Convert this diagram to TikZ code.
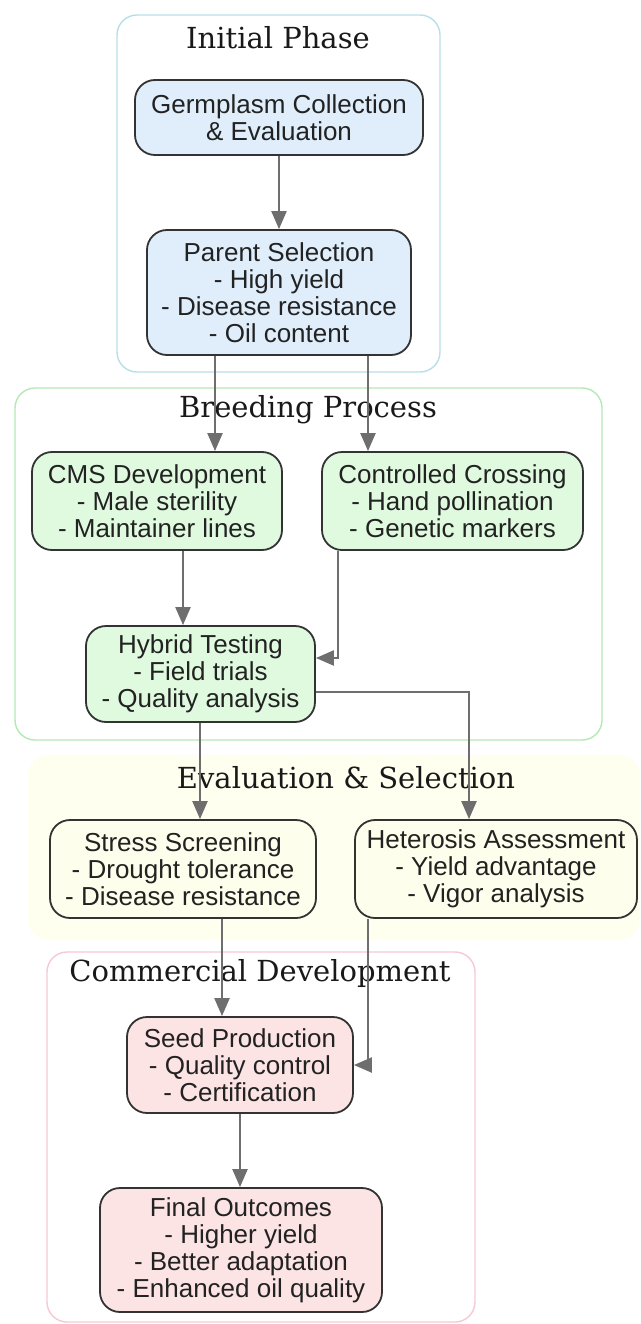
\documentclass[tikz,border=0pt]{standalone}
\usepackage{fontspec}
\newfontfamily\boxfont{Liberation Sans}
\newfontfamily\titlefont{DejaVu Serif}
\usetikzlibrary{
	arrows.meta,
	positioning,
	calc
}
\definecolor{boxline}{HTML}{333333}
\definecolor{boxtext}{HTML}{222222}
\definecolor{edgegray}{HTML}{6E6E6E}
\definecolor{initline}{HTML}{B8DEE8}
\definecolor{breedline}{HTML}{B4E8B4}
\definecolor{evalfill}{HTML}{FFFFF0}
\definecolor{commline}{HTML}{F6C8D2}
\definecolor{initfill}{HTML}{E0EEFC}
\definecolor{breedfill}{HTML}{E0FAE0}
\definecolor{evalbox}{HTML}{FEFEEC}
\definecolor{commfill}{HTML}{FCE4E4}

\begin{document}
\begin{tikzpicture}[
    x=1pt, y=-1pt,
    box/.style={rectangle, rounded corners=20pt, draw=boxline, line width=1.8pt, align=center, inner sep=0pt, text=boxtext, font=\boxfont\fontsize{26}{27}\selectfont},
    cluster/.style={rounded corners=20pt, line width=1.4pt},
    title/.style={font=\titlefont\fontsize{29}{32}\selectfont, text=black!90},
    arrow/.style={-{Triangle[length=18pt,width=15pt]}, line width=2.2pt, draw=edgegray}
]
\useasboundingbox (0,0) rectangle (640,1324);

% clusters
\draw[cluster, draw=initline] (117,15) rectangle (440,372);
\draw[cluster, draw=breedline] (15,388) rectangle (602,740);
\fill[cluster, fill=evalfill] (28,755) rectangle (640,940);
\draw[cluster, draw=commline] (47,952) rectangle (475,1322);

\node[title] (tinit) at (278,38) {Initial Phase};
\node[title] (tbreed) at (308,410) {Breeding Process};
\node[title] (teval) at (346,778) {Evaluation \& Selection};
\node[title] (tcomm) at (260,973) {Commercial Development};

% nodes
\node[box, fill=initfill, minimum width=288pt, minimum height=75pt] (germ) at (279,117.5) {Germplasm Collection\\\& Evaluation};
\node[box, fill=initfill, minimum width=264pt, minimum height=125pt] (parent) at (279,292.5) {Parent Selection\\- High yield\\- Disease resistance\\- Oil content};
\node[box, fill=breedfill, minimum width=250pt, minimum height=98pt] (cms) at (157,501) {CMS Development\\- Male sterility\\- Maintainer lines};
\node[box, fill=breedfill, minimum width=261pt, minimum height=98pt] (cross) at (452.5,501) {Controlled Crossing\\- Hand pollination\\- Genetic markers};
\node[box, fill=breedfill, minimum width=229pt, minimum height=96pt] (hybrid) at (200.5,674) {Hybrid Testing\\- Field trials\\- Quality analysis};
\node[box, fill=evalbox, minimum width=266pt, minimum height=98pt] (stress) at (183,869) {Stress Screening\\- Drought tolerance\\- Disease resistance};
\node[box, fill=evalbox, minimum width=282pt, minimum height=98pt] (heter) at (496,869) {Heterosis Assessment\\- Yield advantage\\- Vigor analysis};
\node[box, fill=commfill, minimum width=226pt, minimum height=96pt] (seed) at (240,1065) {Seed Production\\- Quality control\\- Certification};
\node[box, fill=commfill, minimum width=282pt, minimum height=124pt] (final) at (241,1250) {Final Outcomes\\- Higher yield\\- Better adaptation\\- Enhanced oil quality};

% connectors
\draw[arrow] (germ) -- (parent);
\draw[arrow] ([xshift=-64pt]parent.south) -- ([xshift=-64pt]parent.south |- cms.north);
\draw[arrow] ([xshift=89pt]parent.south) -- ([xshift=89pt]parent.south |- cross.north);
\draw[arrow] ([xshift=26pt]cms.south) -- ([xshift=26pt]cms.south |- hybrid.north);
\draw[arrow] ([xshift=-114.5pt]cross.south) |- ([yshift=16pt]hybrid.east);
\draw[arrow] ([xshift=-0.5pt]hybrid.south) -- ([xshift=-0.5pt]hybrid.south |- stress.north);
\draw[arrow] ([yshift=-18pt]hybrid.east) -| ([xshift=-27pt]heter.north);
\draw[arrow] ([xshift=39pt]stress.south) -- ([xshift=39pt]stress.south |- seed.north);
\draw[arrow] ([xshift=-128pt]heter.south) |- (seed.east);
\draw[arrow] (seed.south) -- (seed.south |- final.north);
\end{tikzpicture}
\end{document}
